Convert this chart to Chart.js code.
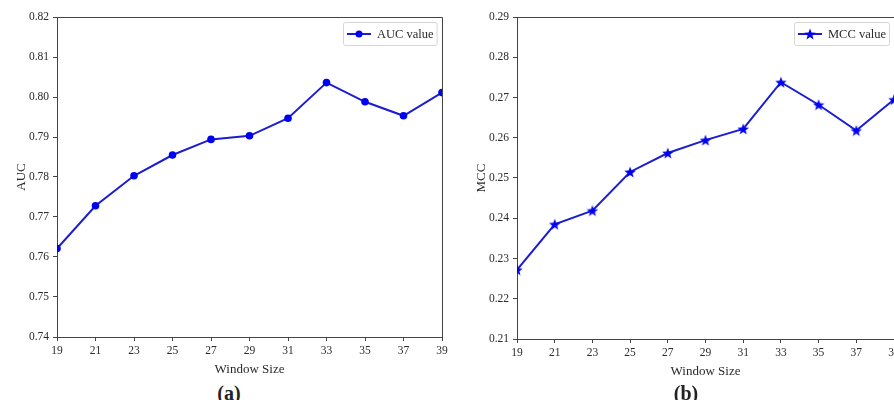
<!DOCTYPE html>
<html>
<head>
<meta charset="utf-8">
<script src="https://cdn.jsdelivr.net/npm/chart.js@4.4.1/dist/chart.umd.min.js"></script>
<style>
  html, body { margin: 0; padding: 0; background: #fff; overflow: hidden; width: 894px; height: 400px; }
  #wrapA { position: absolute; left: 0; top: 0; width: 452px; height: 380px; }
  #wrapB { position: absolute; left: 460px; top: 0; width: 444px; height: 382px; }
  .cap { position: absolute; top: 393px; font: bold 20px "Liberation Serif", serif; color: #222;
         transform: translate(-50%, -50%); white-space: nowrap; }
</style>
</head>
<body>
<div id="wrapA"><canvas id="chartA"></canvas></div>
<div id="wrapB"><canvas id="chartB"></canvas></div>
<div class="cap" style="left:229px">(a)</div>
<div class="cap" style="left:686px">(b)</div>
<script>
const windowSizes = ['19', '21', '23', '25', '27', '29', '31', '33', '35', '37', '39'];
const aucValues = [0.7621, 0.7728, 0.7803, 0.7855, 0.7894, 0.7903, 0.7947, 0.8036, 0.7988, 0.7953, 0.8011];
const mccValues = [0.2272, 0.2385, 0.2419, 0.2515, 0.2562, 0.2594, 0.2622, 0.2738, 0.2682, 0.2618, 0.2695];
const aucRange = [0.74, 0.82];
const mccRange = [0.21, 0.29];

const lineColor = '#1c1cd2';
const markColor = '#0000f0';
const axisColor = '#444';
const textColor = '#2a2a2a';
const serif = '"Liberation Serif", serif';

// filled five-point star, like matplotlib's '*'
function makeStar(size, color) {
    const c = document.createElement('canvas');
    c.width = c.height = size;
    const g = c.getContext('2d');
    const r = size / 2, ri = r * 0.42;
    g.beginPath();
    for (let i = 0; i < 10; i++) {
        const a = -Math.PI / 2 + i * Math.PI / 5;
        const rr = i % 2 ? ri : r;
        g.lineTo(r + rr * Math.cos(a), r + 0.6 + rr * Math.sin(a));
    }
    g.closePath();
    g.fillStyle = color;
    g.fill();
    return c;
}
const star = makeStar(12, markColor);

// top and right sides of the axes box
const frame = {
    id: 'frame',
    afterDraw(chart) {
        const { ctx, chartArea: a } = chart;
        ctx.save();
        ctx.strokeStyle = axisColor;
        ctx.lineWidth = 1;
        ctx.beginPath();
        ctx.moveTo(Math.round(a.left) + 0.5, Math.round(a.top) + 0.5);
        ctx.lineTo(Math.round(a.right) + 0.5, Math.round(a.top) + 0.5);
        ctx.lineTo(Math.round(a.right) + 0.5, Math.round(a.bottom) + 0.5);
        ctx.stroke();
        ctx.restore();
    }
};

// matplotlib-style legend box in the upper right corner
const boxLegend = {
    id: 'boxLegend',
    afterDraw(chart, args, opts) {
        const { ctx, chartArea } = chart;
        ctx.save();
        ctx.font = '12.5px ' + serif;
        const tw = ctx.measureText(opts.text).width;
        const w = 3 + 24 + 6 + tw + 4, h = 23;
        const x = Math.round(chartArea.right - 5 - w), y = Math.round(chartArea.top + 5);
        ctx.fillStyle = 'rgba(255,255,255,0.85)';
        ctx.strokeStyle = '#d6d6d6';
        ctx.lineWidth = 1;
        ctx.beginPath();
        ctx.roundRect(x + 0.5, y + 0.5, w, h, 2);
        ctx.fill();
        ctx.stroke();
        const ly = y + h / 2 + 0.5;
        ctx.strokeStyle = lineColor;
        ctx.lineWidth = 2;
        ctx.beginPath();
        ctx.moveTo(x + 4, ly);
        ctx.lineTo(x + 28, ly);
        ctx.stroke();
        if (opts.marker === 'star') {
            ctx.drawImage(star, x + 16 - 6, ly - 6);
        } else {
            ctx.fillStyle = markColor;
            ctx.beginPath();
            ctx.arc(x + 16, ly, 3.5, 0, Math.PI * 2);
            ctx.fill();
        }
        ctx.fillStyle = textColor;
        ctx.textBaseline = 'middle';
        ctx.fillText(opts.text, x + 34, ly + 0.5);
        ctx.restore();
    }
};

function makeChart(id, values, range, yTitle, legendText, marker) {
    return new Chart(document.getElementById(id), {
        type: 'line',
        data: {
            labels: windowSizes,
            datasets: [{
                label: legendText,
                data: values,
                borderColor: lineColor,
                borderWidth: 2,
                backgroundColor: markColor,
                pointStyle: marker === 'star' ? star : 'circle',
                pointRadius: 3.8,
                pointBorderWidth: 0,
                pointBackgroundColor: markColor,
                tension: 0,
                clip: 0,
            }]
        },
        plugins: [frame, boxLegend],
        options: {
            responsive: true,
            maintainAspectRatio: false,
            animation: false,
            layout: { padding: { left: 14, right: 10, top: 17, bottom: 3 } },
            plugins: {
                legend: { display: false },
                tooltip: { enabled: false },
                boxLegend: { text: legendText, marker: marker },
            },
            scales: {
                x: {
                    offset: false,
                    afterFit: s => { s.height = 40; },
                    grid: { drawOnChartArea: false, drawTicks: true, tickLength: 4, color: axisColor },
                    border: { display: true, color: axisColor },
                    ticks: { color: textColor, font: { family: serif, size: 11.5 }, padding: 3, maxRotation: 0, autoSkip: false },
                    title: { display: true, text: 'Window Size', color: textColor, font: { family: serif, size: 13 }, padding: 0 },
                },
                y: {
                    min: range[0],
                    max: range[1],
                    afterFit: s => { s.width = 43; },
                    grid: { drawOnChartArea: false, drawTicks: true, tickLength: 4, color: axisColor },
                    border: { display: true, color: axisColor },
                    ticks: {
                        stepSize: 0.01,
                        color: textColor,
                        font: { family: serif, size: 11.5 },
                        padding: 4,
                        callback: v => Number(v).toFixed(2),
                    },
                    title: { display: true, text: yTitle, color: textColor, font: { family: serif, size: 13 }, padding: 0 },
                }
            }
        }
    });
}

makeChart('chartA', aucValues, aucRange, 'AUC', 'AUC value', 'circle');
makeChart('chartB', mccValues, mccRange, 'MCC', 'MCC value', 'star');
</script>
</body>
</html>
